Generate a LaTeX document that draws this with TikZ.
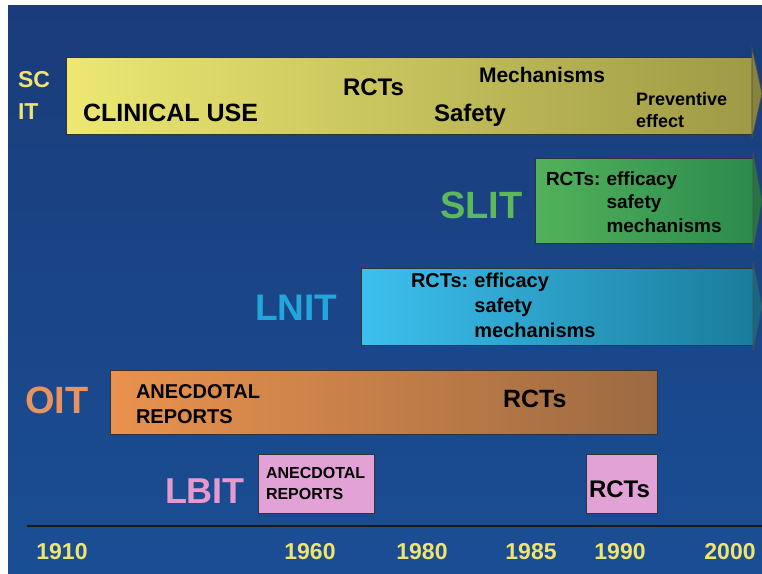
\documentclass[tikz,border=0pt]{standalone}
\usepackage{fontspec}
\setmainfont{Liberation Sans}
\usetikzlibrary{positioning, calc}

\definecolor{bgtop}{HTML}{1A3C7A}
\definecolor{bgmid}{HTML}{155AAA}
\definecolor{bgbot}{HTML}{1A4E94}
\definecolor{scitL}{HTML}{ECE872}
\definecolor{scitR}{HTML}{9E9A46}
\definecolor{slitL}{HTML}{52B25A}
\definecolor{slitR}{HTML}{2C8A4E}
\definecolor{lnitL}{HTML}{3CC0EE}
\definecolor{lnitR}{HTML}{1A7C9C}
\definecolor{oitL}{HTML}{EA924E}
\definecolor{oitR}{HTML}{9C6A42}
\definecolor{lbitbox}{HTML}{E2A2D6}
\definecolor{yeartxt}{HTML}{F0E46E}
\definecolor{slittxt}{HTML}{5CB85A}
\definecolor{lnittxt}{HTML}{22A6DC}
\definecolor{oittxt}{HTML}{EA9260}
\definecolor{lbittxt}{HTML}{E49ACC}

\newcommand{\fsz}[2]{\fontsize{#1}{#2}\selectfont}

\tikzset{
  bar/.style={draw=black!80, line width=0.8pt, anchor=north west},
  tip/.style={draw=black!70, line width=0.6pt},
  txt/.style={anchor=base west, text=black, font=\bfseries},
  axisline/.style={draw=black!90, line width=1.6pt}
}

\begin{document}
\begin{tikzpicture}[x=1pt,y=-1pt,every node/.style={inner sep=0,outer sep=0}]
  \useasboundingbox (0,0) rectangle (762,573);
  \fill[white] (0,0) rectangle (762,573);
  \shade[top color=bgtop, middle color=bgmid, bottom color=bgbot] (8,5) rectangle (762,573);

  % bars
  \node(scit)[bar, minimum width=686pt, minimum height=77pt,
    left color=scitL, right color=scitR] at (66,57) {};
  \node(slit)[bar, minimum width=218pt, minimum height=85pt,
    left color=slitL, right color=slitR] at (535,158) {};
  \node(lnit)[bar, minimum width=392pt, minimum height=77pt,
    left color=lnitL, right color=lnitR] at (361,268) {};
  \node(oit)[bar, minimum width=547pt, minimum height=64pt,
    left color=oitL, right color=oitR] at (110,370) {};
  \node(lbitA)[bar, minimum width=116pt, minimum height=59pt, fill=lbitbox] at (258,454) {};
  \node(lbitB)[bar, minimum width=71pt, minimum height=59pt, fill=lbitbox] at (586,454) {};

  \filldraw[tip, fill=scitR!85!black] ($(scit.north east)+(0,-9)$) -- ($(scit.east)+(10,-2)$)
    -- ($(scit.south east)+(0,4)$) -- cycle;
  \filldraw[tip, fill=slitR!85!black] ($(slit.north east)+(0,-5)$) -- ($(slit.east)+(9,0)$)
    -- ($(slit.south east)+(0,7)$) -- cycle;
  \filldraw[tip, fill=lnitR!85!black] ($(lnit.north east)+(0,-6)$) -- ($(lnit.east)+(9,0)$)
    -- ($(lnit.south east)+(0,6)$) -- cycle;

  % SCIT
  \node(sc)[txt, text=yeartxt, font=\bfseries\fsz{23}{32}] at (18,87) {SC};
  \node(it)[txt, text=yeartxt, font=\bfseries\fsz{23}{32}] at (18,119) {IT};
  \node(clin)[txt, font=\bfseries\fsz{25}{30}] at (83,121) {CLINICAL USE};
  \node(scrct)[txt, font=\bfseries\fsz{24}{30}] at (343,95) {RCTs};
  \node(mech)[txt, font=\bfseries\fsz{21}{26}] at (479,82) {Mechanisms};
  \node(safe)[txt, font=\bfseries\fsz{24}{30}] at (434,121) {Safety};
  \node(prev)[txt, font=\bfseries\fsz{18}{22}] at (636,105) {Preventive\strut};
  \node(eff)[font=\bfseries\fsz{18}{22}, below right=0mm of prev.south west] {effect\strut};

  % SLIT
  \node(slitlbl)[txt, text=slittxt, font=\bfseries\fsz{38}{44}] at (440,218) {SLIT};
  \node(slitrct)[txt, font=\bfseries\fsz{19}{23.5}] at (546,185) {RCTs:\strut};
  \node(slitef)[font=\bfseries\fsz{19}{23.5}, right=6pt of slitrct] {efficacy\strut};
  \node(slitsaf)[font=\bfseries\fsz{19}{23.5}, below right=0mm of slitef.south west] {safety\strut};
  \node(slitmech)[font=\bfseries\fsz{19}{23.5}, below right=0mm of slitsaf.south west] {mechanisms\strut};

  % LNIT
  \node(lnitlbl)[txt, text=lnittxt, font=\bfseries\fsz{37}{44}] at (255,320) {LNIT};
  \node(lnitrct)[txt, font=\bfseries\fsz{20}{25}] at (411,287) {RCTs:\strut};
  \node(lnitef)[font=\bfseries\fsz{20}{25}, right=6pt of lnitrct] {efficacy\strut};
  \node(lnitsaf)[font=\bfseries\fsz{20}{25}, below right=0mm of lnitef.south west] {safety\strut};
  \node(lnitmech)[font=\bfseries\fsz{20}{25}, below right=0mm of lnitsaf.south west] {mechanisms\strut};

  % OIT
  \node(oitlbl)[txt, text=oittxt, font=\bfseries\fsz{38}{44}] at (25,413) {OIT};
  \node(oitanec)[txt, font=\bfseries\fsz{20}{25}] at (136,398) {ANECDOTAL\strut};
  \node(oitrep)[font=\bfseries\fsz{20}{25}, below right=0mm of oitanec.south west] {REPORTS\strut};
  \node(oitrct)[txt, font=\bfseries\fsz{25}{30}] at (503,407) {RCTs};

  % LBIT
  \node(lbitlbl)[txt, text=lbittxt, font=\bfseries\fsz{36}{44}] at (165,503) {LBIT};
  \node(lbitanec)[txt, font=\bfseries\fsz{16}{21}] at (266,478) {ANECDOTAL\strut};
  \node(lbitrep)[font=\bfseries\fsz{16}{21}, below right=0mm of lbitanec.south west] {REPORTS\strut};
  \node(lbitrct)[txt, font=\bfseries\fsz{24}{30}] at (589,497) {RCTs};

  % time axis
  \coordinate(axl) at (27,526);
  \coordinate(axr) at (762,526);
  \draw[axisline] (axl) -- (axr);

  \node(y1910)[anchor=base, text=yeartxt, font=\bfseries\fsz{23}{28}] at (62,559) {1910};
  \node(y1960)[anchor=base, text=yeartxt, font=\bfseries\fsz{23}{28}] at (310,559) {1960};
  \node(y1980)[anchor=base, text=yeartxt, font=\bfseries\fsz{23}{28}] at (422,559) {1980};
  \node(y1985)[anchor=base, text=yeartxt, font=\bfseries\fsz{23}{28}] at (531,559) {1985};
  \node(y1990)[anchor=base, text=yeartxt, font=\bfseries\fsz{23}{28}] at (620,559) {1990};
  \node(y2000)[anchor=base, text=yeartxt, font=\bfseries\fsz{23}{28}] at (730,559) {2000};
\end{tikzpicture}
\end{document}
